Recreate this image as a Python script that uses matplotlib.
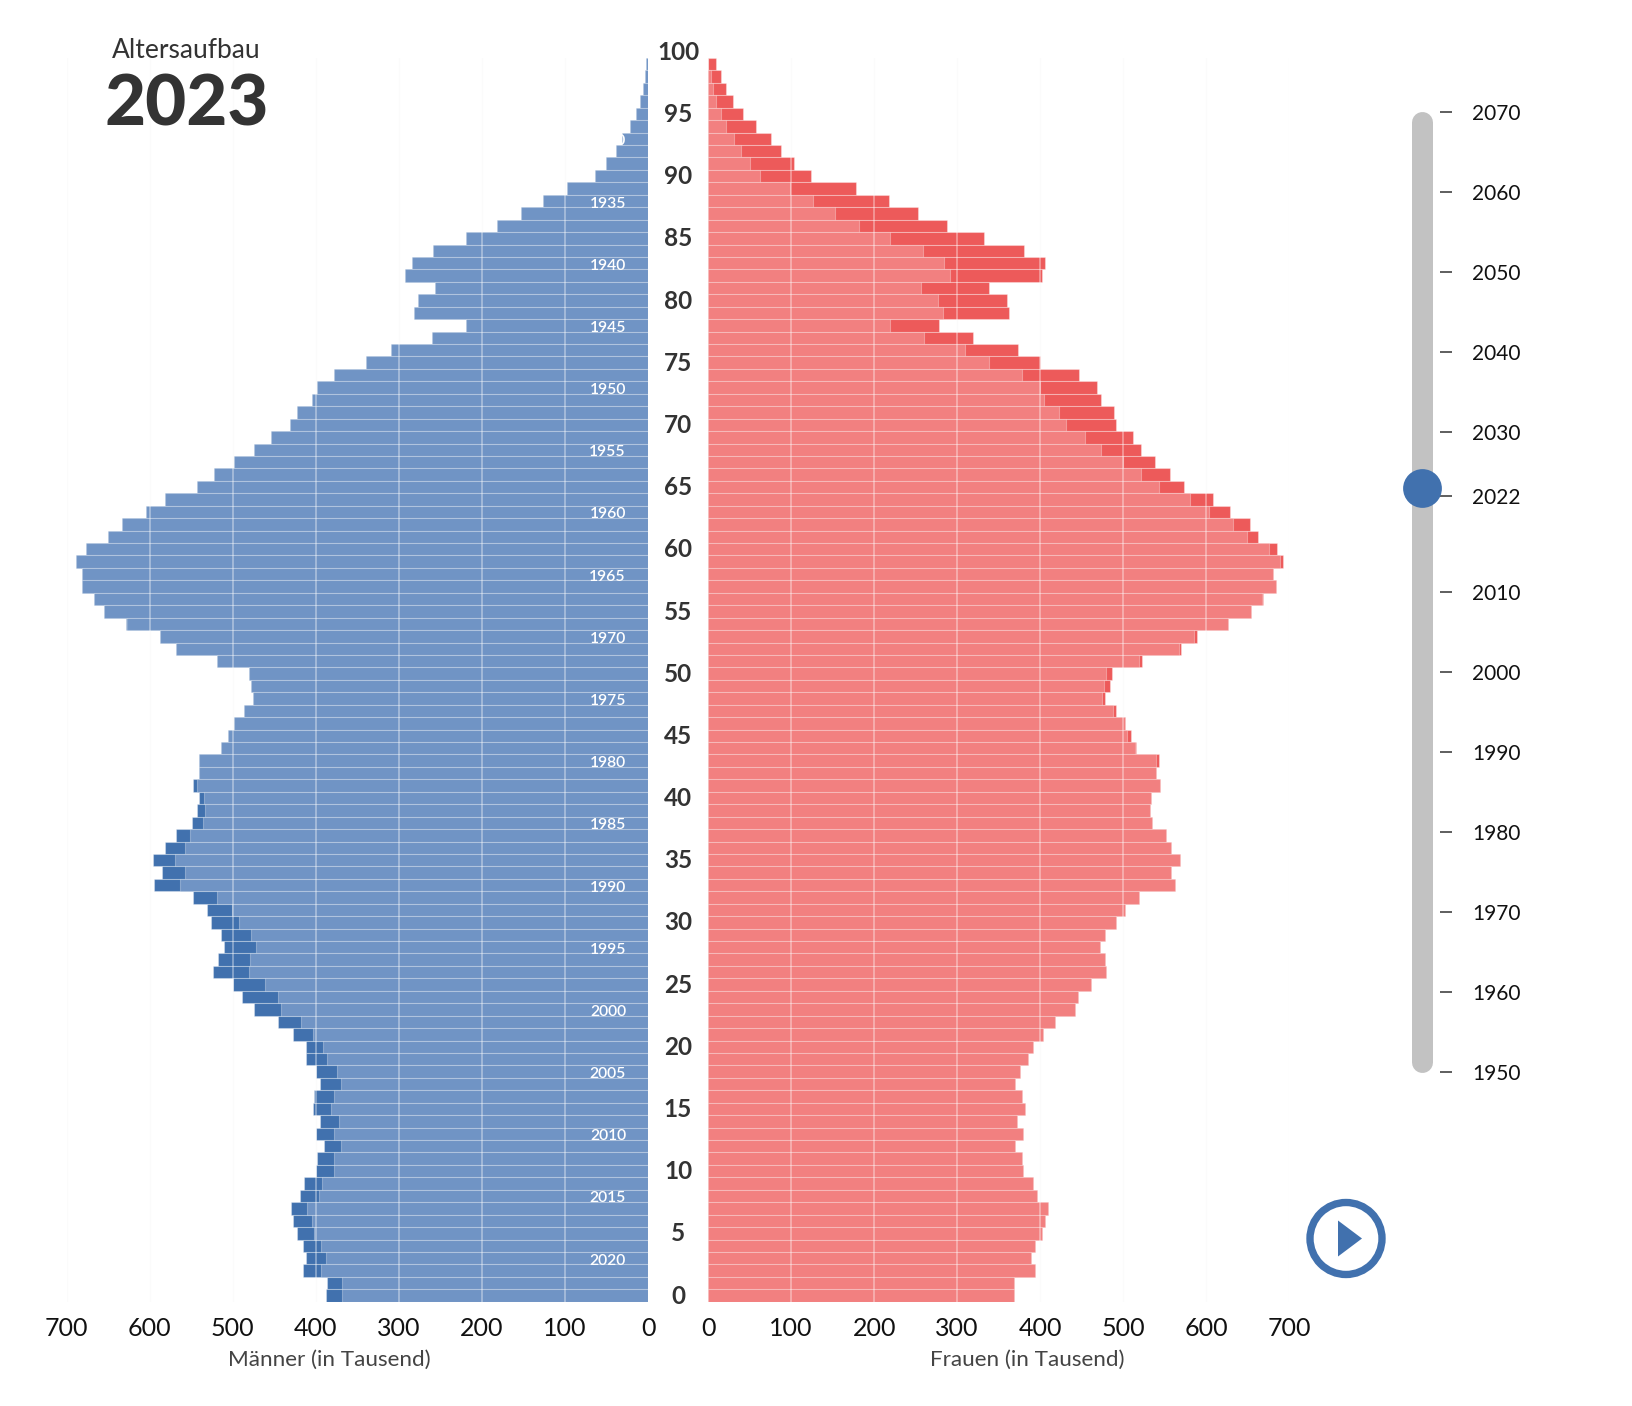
import numpy as np
import matplotlib
matplotlib.use("Agg")
import matplotlib.pyplot as plt
from matplotlib.patches import Circle, Polygon
from matplotlib.transforms import blended_transform_factory

W, H = 1632, 1406
plt.rcParams['font.family'] = ['Lato', 'DejaVu Sans']

# all lists run from age 99 down to age 0
men_outer = [2, 4, 6, 10, 15, 22, 31, 39, 50, 64,
             98, 126, 153, 182, 219, 259, 284, 292, 256, 277,
             282, 219, 260, 309, 339, 378, 398, 405, 422, 431,
             454, 474, 498, 522, 543, 581, 604, 633, 650, 677,
             689, 681, 682, 667, 655, 628, 587, 568, 519, 480,
             478, 475, 487, 499, 506, 514, 541, 540, 548, 541,
             543, 549, 568, 581, 596, 585, 595, 548, 531, 526,
             514, 510, 518, 524, 500, 489, 474, 445, 427, 412,
             412, 400, 395, 402, 403, 395, 400, 390, 399, 400,
             414, 419, 430, 427, 422, 415, 412, 415, 387, 388]
men_inner = [2, 4, 6, 10, 15, 22, 31, 39, 50, 64,
             98, 126, 153, 182, 219, 259, 284, 292, 256, 277,
             282, 219, 260, 309, 339, 378, 398, 405, 422, 431,
             454, 474, 498, 522, 543, 581, 604, 633, 650, 677,
             689, 681, 682, 667, 655, 627, 587, 568, 519, 480,
             478, 475, 487, 499, 506, 514, 541, 540, 543, 535,
             533, 536, 551, 558, 570, 558, 563, 519, 501, 492,
             478, 472, 479, 480, 461, 446, 442, 418, 403, 391,
             386, 375, 370, 378, 382, 372, 378, 370, 378, 378,
             392, 396, 410, 405, 402, 394, 388, 394, 368, 368]
women_outer = [10, 15, 22, 30, 42, 58, 76, 88, 104, 124,
               178, 218, 253, 288, 333, 381, 406, 402, 339, 360,
               362, 278, 319, 373, 400, 447, 469, 474, 489, 492,
               512, 522, 539, 556, 573, 609, 629, 653, 663, 685,
               693, 681, 684, 669, 654, 627, 589, 570, 523, 487,
               484, 478, 492, 502, 509, 516, 543, 540, 544, 534,
               533, 535, 552, 558, 569, 558, 563, 519, 502, 492,
               478, 472, 478, 480, 461, 446, 442, 418, 404, 392,
               386, 376, 370, 378, 382, 372, 380, 370, 378, 380,
               392, 396, 410, 406, 402, 394, 389, 394, 368, 369]
women_inner = [0, 3, 6, 10, 15, 22, 31, 39, 50, 63,
               98, 126, 153, 182, 219, 259, 284, 292, 256, 277,
               283, 219, 260, 309, 339, 378, 400, 405, 423, 431,
               454, 474, 500, 522, 543, 581, 604, 633, 649, 676,
               689, 681, 684, 668, 654, 627, 586, 568, 519, 480,
               477, 475, 488, 502, 505, 514, 540, 540, 544, 534,
               533, 535, 552, 558, 569, 558, 563, 519, 502, 492,
               478, 472, 478, 480, 461, 446, 442, 418, 404, 392,
               386, 376, 370, 378, 382, 372, 380, 370, 378, 380,
               392, 396, 410, 406, 402, 394, 389, 394, 368, 369]

ages = np.arange(99, -1, -1)
age_labels = list(range(0, 101, 5))
birth_years = list(range(1930, 2021, 5))
value_ticks = [0, 100, 200, 300, 400, 500, 600, 700]
slider_years = [1950, 1960, 1970, 1980, 1990, 2000, 2010, 2022, 2030, 2040, 2050, 2060, 2070]
current_year = 2023

BLUE_DARK = '#4171ae'
BLUE_LIGHT = '#7094c5'
RED_DARK = '#ed5a5a'
RED_LIGHT = '#f28080'
TEXT = '#333333'
EDGE = (1, 1, 1, 0.3)


def px_axes(x0, x1, y_top, y_bottom):
    return fig.add_axes([x0 / W, 1 - y_bottom / H, (x1 - x0) / W, (y_bottom - y_top) / H])


def draw_side(ax, outer, inner, dark, light):
    ax.set_axisbelow(True)
    ax.grid(axis='x', color='#fafafa', lw=1)
    ax.barh(ages, outer, height=1, color=dark, edgecolor=EDGE, linewidth=0.8, zorder=2)
    ax.barh(ages, inner, height=1, color=light, edgecolor=EDGE, linewidth=0.8, zorder=3)
    ax.vlines(value_ticks[1:], -0.5, 99.5, color='white', alpha=0.45, lw=1.1, zorder=4)
    ax.set_ylim(-0.5, 99.5)
    ax.set_yticks([])
    ax.set_xticks(value_ticks)
    ax.tick_params(axis='x', length=0, pad=11, labelsize=18, labelcolor='#111111')
    for s in ax.spines.values():
        s.set_visible(False)
    ax.patch.set_alpha(0)


fig = plt.figure(figsize=(W / 100, H / 100), dpi=100, facecolor='white')

ax_m = px_axes(66.6, 648, 58, 1301.7)
draw_side(ax_m, men_outer, men_inner, BLUE_DARK, BLUE_LIGHT)
ax_m.set_xlim(700, 0)

ax_w = px_axes(708.2, 1289, 58, 1301.7)
draw_side(ax_w, women_outer, women_inner, RED_DARK, RED_LIGHT)
ax_w.set_xlim(0, 700)

# age labels between the two halves
trans = blended_transform_factory(fig.transFigure, ax_m.transData)
for a in age_labels:
    ax_m.text(678 / W, a - 0.05, str(a), transform=trans, ha='center', va='center',
              fontsize=17.5, fontweight='bold', color=TEXT, clip_on=False)

# birth years inside the men's bars
for y in birth_years:
    ax_m.text(626 / W, current_year - y - 0.2, str(y), transform=trans, ha='right', va='center',
              fontsize=11.3, fontweight='semibold', color='white', zorder=6)

fig.text(329 / W, 1 - 1360 / H, 'Männer (in Tausend)', ha='center', va='center', fontsize=16.2, color='#444444')
fig.text(1027 / W, 1 - 1360 / H, 'Frauen (in Tausend)', ha='center', va='center', fontsize=16.2, color='#444444')
fig.text(186 / W, 1 - 50 / H, 'Altersaufbau', ha='center', va='center', fontsize=19, color=TEXT)
fig.text(187 / W, 1 - 105 / H, str(current_year), ha='center', va='center', fontsize=51,
         fontweight='black', color=TEXT)

# year slider
ax_s = px_axes(1412, 1440, 112, 1072)
ax_s.set_xlim(0, 28)
ax_s.set_ylim(1950, 2070)
ax_s.plot([10, 10], [1951.3, 2068.7], color='#c2c2c2', lw=15.1, solid_capstyle='round',
          clip_on=False, zorder=1)
ax_s.scatter([10], [current_year], s=780, color=BLUE_DARK, linewidths=0, clip_on=False, zorder=5)
ax_s.set_xticks([])
ax_s.yaxis.tick_right()
ax_s.set_yticks(slider_years)
ax_s.tick_params(axis='y', length=8.6, width=1.1, color=TEXT, pad=14.4, labelsize=15, labelcolor='#111111')
for s in ax_s.spines.values():
    s.set_visible(False)
ax_s.patch.set_alpha(0)

# play button
ax_p = fig.add_axes([0, 0, 1, 1], zorder=10)
ax_p.set_xlim(0, W)
ax_p.set_ylim(H, 0)
ax_p.axis('off')
ax_p.add_patch(Circle((1346, 1238.5), 36, facecolor='none', edgecolor=BLUE_DARK, lw=5.3))
ax_p.add_patch(Polygon([(1338, 1220.5), (1362, 1238.5), (1338, 1256.5)], closed=True, facecolor=BLUE_DARK, edgecolor='none'))

fig.savefig('out.png', dpi=100, facecolor='white')
